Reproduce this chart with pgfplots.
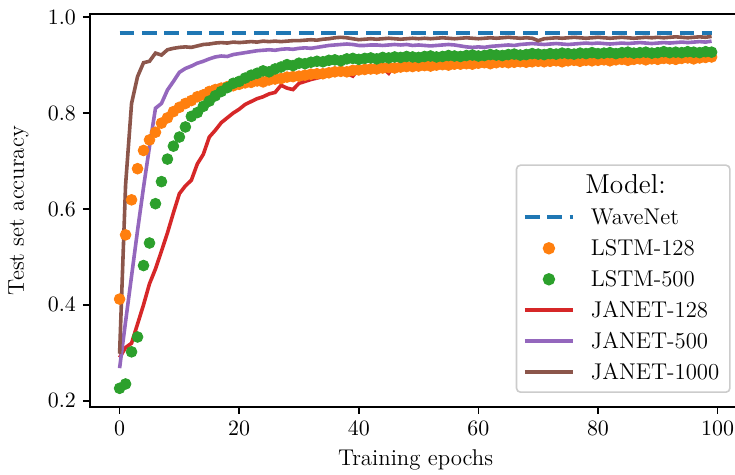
\documentclass[border=0pt]{standalone}
\usepackage{pgfplots}
\pgfplotsset{compat=1.18}
\definecolor{tabblue}{HTML}{1F77B4}
\definecolor{taborange}{HTML}{FF7F0E}
\definecolor{tabgreen}{HTML}{2CA02C}
\definecolor{tabred}{HTML}{D62728}
\definecolor{tabpurple}{HTML}{9467BD}
\definecolor{tabbrown}{HTML}{8C564B}
\newcommand{\ls}{\rule[-1.2pt]{0pt}{10.1pt}}
\pgfplotsset{
  linelegend/.style={legend image code/.code={\draw[##1] (0pt,0pt) -- (24pt,0pt);}},
  dotlegend/.style={legend image code/.code={\path[draw=none,fill=none] (0pt,0pt) (24pt,0pt); \draw[##1, only marks] plot coordinates {(12pt,0pt)};}},
}
\begin{document}
\begin{tikzpicture}
\begin{axis}[
  at={(0,0)}, anchor=south west,
  scale only axis, width=325.6pt, height=196.35pt,
  xmin=-4.95, xmax=103.95, ymin=0.187, ymax=1.006,
  xtick={0,20,40,60,80,100},
  ytick={0.2,0.4,0.6,0.8,1.0},
  yticklabel style={/pgf/number format/fixed, /pgf/number format/precision=1, /pgf/number format/fixed zerofill},
  tick align=outside, tick pos=left,
  major tick length=3.5pt,
  every tick/.style={black, line width=0.8pt},
  axis line style={line width=1pt},
  ticklabel style={font=\fontsize{11.4}{13}\selectfont},
  label style={font=\fontsize{11.4}{13}\selectfont},
  xlabel={Training epochs},
  ylabel={Test set accuracy},
  xlabel style={at={(axis description cs:0.5,-0.1495)}, anchor=base},
  ylabel style={at={(axis description cs:-0.1014,0.5)}, anchor=base},
  legend style={at={(rel axis cs:1,0)}, anchor=south east, xshift=-5.25pt, yshift=7pt,
    draw=black!20, line width=0.8pt, rounded corners=2pt, fill=white,
    inner xsep=3.2pt, inner ysep=4.75pt, row sep=5.1pt, column sep=8pt,
    nodes={inner sep=0pt}, cells={anchor=west},
    font=\fontsize{11.4}{13}\selectfont},
  linelegend,
]
\addlegendimage{empty legend}
\addlegendentry{\hspace*{-2.8pt}\fontsize{13.7}{16}\selectfont Model:\rule[-1.2pt]{0pt}{9.9pt}}

\addplot[tabblue, line width=2pt, dash pattern=on 7.4pt off 3.8pt] coordinates {(0,0.967) (99,0.967)};
\addlegendentry{WaveNet\ls}

\addplot[only marks, mark=*, mark size=2.7pt, color=taborange, mark options={draw=none, fill=taborange}, dotlegend] coordinates {
(0,0.412) (1,0.546) (2,0.619) (3,0.684) (4,0.722) (5,0.744) (6,0.760) (7,0.779) (8,0.790) (9,0.803)
(10,0.812) (11,0.820) (12,0.826) (13,0.834) (14,0.838) (15,0.845) (16,0.849) (17,0.852) (18,0.855) (19,0.857)
(20,0.860) (21,0.863) (22,0.864) (23,0.867) (24,0.865) (25,0.869) (26,0.871) (27,0.872) (28,0.875) (29,0.876)
(30,0.877) (31,0.879) (32,0.881) (33,0.882) (34,0.882) (35,0.884) (36,0.886) (37,0.887) (38,0.886) (39,0.889)
(40,0.890) (41,0.891) (42,0.892) (43,0.892) (44,0.894) (45,0.895) (46,0.894) (47,0.896) (48,0.897) (49,0.897)
(50,0.898) (51,0.899) (52,0.898) (53,0.900) (54,0.901) (55,0.900) (56,0.902) (57,0.902) (58,0.903) (59,0.902)
(60,0.904) (61,0.905) (62,0.903) (63,0.905) (64,0.906) (65,0.905) (66,0.906) (67,0.907) (68,0.906) (69,0.907)
(70,0.908) (71,0.907) (72,0.908) (73,0.909) (74,0.907) (75,0.909) (76,0.910) (77,0.908) (78,0.910) (79,0.909)
(80,0.910) (81,0.911) (82,0.909) (83,0.911) (84,0.912) (85,0.910) (86,0.912) (87,0.913) (88,0.911) (89,0.913)
(90,0.912) (91,0.914) (92,0.913) (93,0.912) (94,0.914) (95,0.915) (96,0.913) (97,0.915) (98,0.916) (99,0.917)
};
\addlegendentry{LSTM-128\ls}

\addplot[only marks, mark=*, mark size=2.7pt, color=tabgreen, mark options={draw=none, fill=tabgreen}, dotlegend] coordinates {
(0,0.226) (1,0.235) (2,0.302) (3,0.333) (4,0.482) (5,0.529) (6,0.611) (7,0.657) (8,0.704) (9,0.731)
(10,0.750) (11,0.771) (12,0.793) (13,0.801) (14,0.814) (15,0.825) (16,0.836) (17,0.845) (18,0.853) (19,0.862)
(20,0.866) (21,0.873) (22,0.879) (23,0.883) (24,0.888) (25,0.886) (26,0.892) (27,0.896) (28,0.901) (29,0.899)
(30,0.904) (31,0.903) (32,0.906) (33,0.908) (34,0.907) (35,0.910) (36,0.911) (37,0.909) (38,0.913) (39,0.914)
(40,0.912) (41,0.914) (42,0.915) (43,0.913) (44,0.916) (45,0.915) (46,0.917) (47,0.916) (48,0.918) (49,0.917)
(50,0.916) (51,0.918) (52,0.919) (53,0.917) (54,0.918) (55,0.920) (56,0.919) (57,0.918) (58,0.920) (59,0.921)
(60,0.919) (61,0.920) (62,0.922) (63,0.921) (64,0.920) (65,0.922) (66,0.923) (67,0.921) (68,0.922) (69,0.924)
(70,0.923) (71,0.922) (72,0.924) (73,0.923) (74,0.925) (75,0.924) (76,0.923) (77,0.925) (78,0.924) (79,0.926)
(80,0.924) (81,0.925) (82,0.926) (83,0.924) (84,0.926) (85,0.927) (86,0.925) (87,0.926) (88,0.927) (89,0.925)
(90,0.926) (91,0.928) (92,0.926) (93,0.927) (94,0.926) (95,0.928) (96,0.927) (97,0.926) (98,0.928) (99,0.927)
};
\addlegendentry{LSTM-500\ls}

\addplot[tabred, line width=1.8pt] coordinates {
(0,0.290) (1,0.311) (2,0.320) (3,0.360) (4,0.400) (5,0.444) (6,0.475) (7,0.512) (8,0.550) (9,0.592)
(10,0.632) (11,0.648) (12,0.660) (13,0.694) (14,0.714) (15,0.750) (16,0.764) (17,0.780) (18,0.790) (19,0.800)
(20,0.808) (21,0.818) (22,0.824) (23,0.830) (24,0.834) (25,0.840) (26,0.843) (27,0.858) (28,0.852) (29,0.849)
(30,0.862) (31,0.866) (32,0.870) (33,0.873) (34,0.876) (35,0.878) (36,0.882) (37,0.884) (38,0.883) (39,0.877)
(40,0.892) (41,0.890) (42,0.891) (43,0.899) (44,0.894) (45,0.883) (46,0.901) (47,0.900) (48,0.902) (49,0.903)
(50,0.904) (51,0.905) (52,0.906) (53,0.908) (54,0.905) (55,0.901) (56,0.904) (57,0.906) (58,0.905) (59,0.910)
(60,0.913) (61,0.912) (62,0.913) (63,0.914) (64,0.915) (65,0.915) (66,0.917) (67,0.918) (68,0.919) (69,0.918)
(70,0.917) (71,0.919) (72,0.918) (73,0.917) (74,0.919) (75,0.920) (76,0.921) (77,0.922) (78,0.918) (79,0.920)
(80,0.913) (81,0.911) (82,0.918) (83,0.919) (84,0.920) (85,0.922) (86,0.924) (87,0.921) (88,0.923) (89,0.922)
(90,0.921) (91,0.923) (92,0.922) (93,0.924) (94,0.923) (95,0.922) (96,0.924) (97,0.925) (98,0.923) (99,0.920)
};
\addlegendentry{JANET-128\ls}

\addplot[tabpurple, line width=1.8pt] coordinates {
(0,0.268) (1,0.365) (2,0.460) (3,0.555) (4,0.645) (5,0.730) (6,0.810) (7,0.820) (8,0.848) (9,0.866)
(10,0.885) (11,0.893) (12,0.898) (13,0.904) (14,0.908) (15,0.913) (16,0.917) (17,0.919) (18,0.918) (19,0.922)
(20,0.924) (21,0.926) (22,0.928) (23,0.930) (24,0.931) (25,0.932) (26,0.931) (27,0.933) (28,0.934) (29,0.933)
(30,0.935) (31,0.936) (32,0.935) (33,0.937) (34,0.939) (35,0.941) (36,0.942) (37,0.943) (38,0.944) (39,0.943)
(40,0.941) (41,0.941) (42,0.942) (43,0.942) (44,0.941) (45,0.942) (46,0.943) (47,0.942) (48,0.943) (49,0.941)
(50,0.942) (51,0.941) (52,0.940) (53,0.941) (54,0.942) (55,0.943) (56,0.942) (57,0.940) (58,0.938) (59,0.937)
(60,0.938) (61,0.937) (62,0.939) (63,0.940) (64,0.941) (65,0.942) (66,0.941) (67,0.943) (68,0.944) (69,0.945)
(70,0.944) (71,0.943) (72,0.944) (73,0.945) (74,0.944) (75,0.943) (76,0.944) (77,0.945) (78,0.946) (79,0.945)
(80,0.946) (81,0.945) (82,0.944) (83,0.945) (84,0.946) (85,0.945) (86,0.946) (87,0.947) (88,0.946) (89,0.945)
(90,0.946) (91,0.947) (92,0.946) (93,0.947) (94,0.948) (95,0.947) (96,0.948) (97,0.949) (98,0.948) (99,0.950)
};
\addlegendentry{JANET-500\ls}

\addplot[tabbrown, line width=1.8pt] coordinates {
(0,0.298) (1,0.650) (2,0.820) (3,0.876) (4,0.905) (5,0.908) (6,0.925) (7,0.921) (8,0.932) (9,0.935)
(10,0.937) (11,0.938) (12,0.937) (13,0.940) (14,0.943) (15,0.944) (16,0.946) (17,0.947) (18,0.946) (19,0.948)
(20,0.947) (21,0.948) (22,0.949) (23,0.948) (24,0.950) (25,0.949) (26,0.950) (27,0.949) (28,0.950) (29,0.951)
(30,0.951) (31,0.952) (32,0.953) (33,0.952) (34,0.954) (35,0.955) (36,0.957) (37,0.958) (38,0.957) (39,0.955)
(40,0.953) (41,0.954) (42,0.955) (43,0.954) (44,0.955) (45,0.956) (46,0.955) (47,0.954) (48,0.955) (49,0.956)
(50,0.955) (51,0.956) (52,0.955) (53,0.956) (54,0.957) (55,0.956) (56,0.955) (57,0.956) (58,0.957) (59,0.956)
(60,0.955) (61,0.956) (62,0.957) (63,0.956) (64,0.957) (65,0.958) (66,0.957) (67,0.956) (68,0.957) (69,0.956)
(70,0.951) (71,0.955) (72,0.956) (73,0.957) (74,0.956) (75,0.957) (76,0.958) (77,0.957) (78,0.956) (79,0.957)
(80,0.958) (81,0.957) (82,0.956) (83,0.957) (84,0.958) (85,0.957) (86,0.956) (87,0.957) (88,0.958) (89,0.957)
(90,0.958) (91,0.957) (92,0.958) (93,0.959) (94,0.958) (95,0.957) (96,0.958) (97,0.959) (98,0.958) (99,0.960)
};
\addlegendentry{JANET-1000\hspace*{2.1pt}\ls}
\end{axis}
\pgfresetboundingbox
\useasboundingbox (-45pt,-34pt) rectangle (322.5pt,203.5pt);
\end{tikzpicture}
\end{document}
